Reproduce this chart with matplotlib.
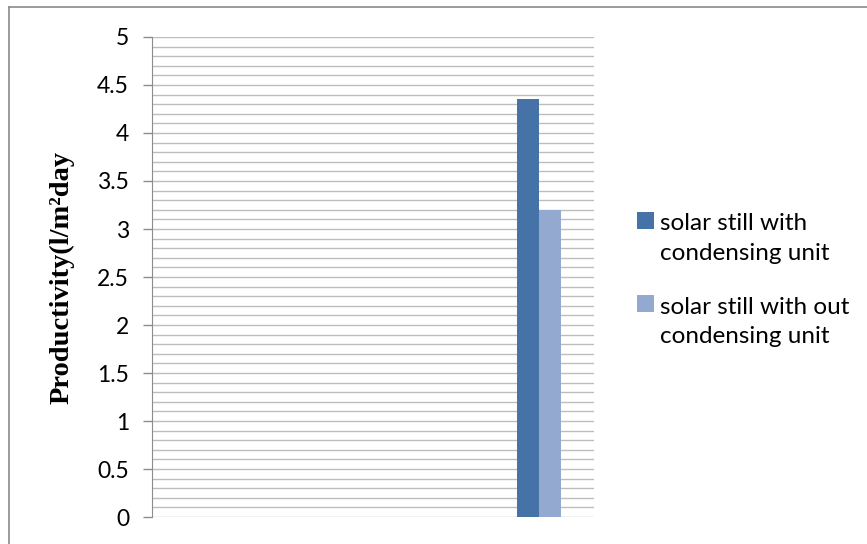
import matplotlib
matplotlib.use("Agg")
import matplotlib.pyplot as plt
import numpy as np
from matplotlib.patches import Patch, Rectangle
from matplotlib.lines import Line2D
from matplotlib.legend_handler import HandlerPatch

# four category slots, only the last one carries data
CATEGORIES = ["", "", "", ""]
WITH_UNIT = [np.nan, np.nan, np.nan, 4.35]
WITHOUT_UNIT = [np.nan, np.nan, np.nan, 3.2]
SERIES_NAMES = ["solar still with\ncondensing unit", "solar still with out\ncondensing unit"]
COLORS = ["#4573a7", "#94a9cf"]
YTICKS = [0, 0.5, 1, 1.5, 2, 2.5, 3, 3.5, 4, 4.5, 5]
YTICK_LABELS = ["0", "0.5", "1", "1.5", "2", "2.5", "3", "3.5", "4", "4.5", "5"]


class TopSquare(HandlerPatch):
    # Excel puts the legend key next to the first line of a wrapped label
    def create_artists(self, legend, orig_handle, xdescent, ydescent, width, height, fontsize, trans):
        p = Rectangle((-xdescent, -ydescent + 0.76 * fontsize), width, width,
                      facecolor=orig_handle.get_facecolor(), edgecolor="none", transform=trans)
        return [p]


fig = plt.figure(figsize=(8.67, 5.44), dpi=100)
ax = fig.add_axes([0.1753, 0.0496, 0.5098, 0.8824])

x = np.arange(len(CATEGORIES))
w = 0.2
ax.bar(x - w / 2, WITH_UNIT, width=w, color=COLORS[0], zorder=3)
ax.bar(x + w / 2, WITHOUT_UNIT, width=w, color=COLORS[1], zorder=3)

ax.set_xlim(-0.5, len(CATEGORIES) - 0.5)
ax.set_ylim(0, 5)
ax.set_xticks([])
ax.set_yticks(YTICKS)
ax.set_yticklabels(YTICK_LABELS, fontsize=16.5, family="Lato")
ax.set_yticks(np.arange(0, 5.01, 0.1), minor=True)
ax.tick_params(axis="y", which="major", length=6.5, width=1, color="#8c8c8c", pad=10)
ax.tick_params(axis="y", which="minor", length=0)
ax.grid(axis="y", which="both", color="#bdbdbd", lw=1, zorder=0)
for s in ["top", "right", "bottom"]:
    ax.spines[s].set_visible(False)
ax.spines["left"].set_color("#8c8c8c")
ax.spines["left"].set_zorder(4)

fig.text(0.071, 0.49, "Productivity(l/m²day", rotation=90, ha="center", va="center",
         fontsize=20.5, fontweight="bold", family="Liberation Serif")

handles = [Patch(facecolor=c, edgecolor="none") for c in COLORS]
leg = fig.legend(handles, SERIES_NAMES, loc="upper left", bbox_to_anchor=(0.7347, 0.608),
                 frameon=False, prop={"family": "Lato", "size": 17.5},
                 handler_map={Patch: TopSquare()}, borderpad=0, borderaxespad=0,
                 handlelength=0.7, handleheight=0.7, handletextpad=0.25, labelspacing=1.35)
for t in leg.get_texts():
    t.set_linespacing(1.5)

# chart-area border (only top and left edges visible in the crop)
fig.add_artist(Line2D([0.0104, 1.0], [0.9871, 0.9871], color="#8a8a8a", lw=1.2, transform=fig.transFigure))
fig.add_artist(Line2D([0.0104, 0.0104], [0.0, 0.9871], color="#8a8a8a", lw=1.2, transform=fig.transFigure))

fig.savefig("out.png", dpi=100)
